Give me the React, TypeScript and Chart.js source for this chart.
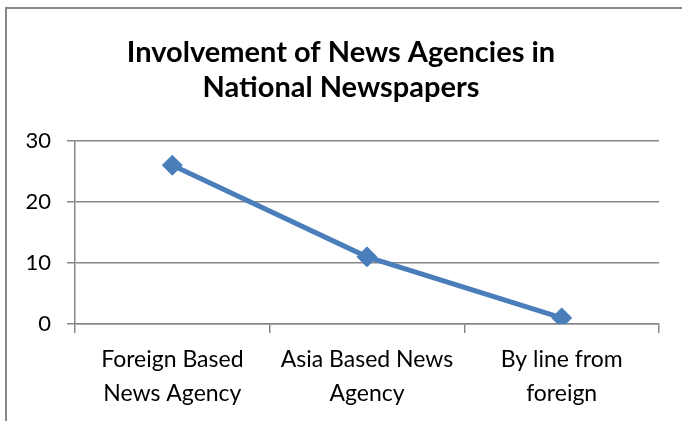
import React, { useEffect, useRef } from "react";
import { Chart, registerables } from "chart.js";

Chart.register(...registerables);

const titleLines = ["Involvement of News Agencies in", "National Newspapers"];
const categories: string[][] = [
  ["Foreign Based", "News Agency"],
  ["Asia Based News", "Agency"],
  ["By line from", "foreign"],
];
const seriesValues = [26, 11, 1];
const yTicks = [0, 10, 20, 30];

const FONT = "Lato, 'Open Sans', sans-serif";

export default function App() {
  const ref = useRef<HTMLCanvasElement | null>(null);
  useEffect(() => {
    if (!ref.current) return;
    const chart = new Chart(ref.current, {
      type: "line",
      data: {
        labels: categories,
        datasets: [
          {
            data: seriesValues,
            borderColor: "#4a7ebb",
            backgroundColor: "#4a7ebb",
            borderWidth: 5,
            pointStyle: "rectRot",
            pointRadius: 10,
            pointHoverRadius: 10,
            pointBorderWidth: 1,
            tension: 0,
          },
        ],
      },
      options: {
        animation: false,
        responsive: false,
        layout: { padding: { left: 0, right: 0, top: 0, bottom: 0 } },
        plugins: {
          legend: { display: false },
          tooltip: { enabled: false },
          title: {
            display: true,
            text: titleLines,
            color: "#000",
            font: { family: FONT, size: 29, weight: "bold", lineHeight: 1.22 },
            padding: { top: 35, bottom: 35 },
          },
        },
        scales: {
          x: {
            type: "category",
            offset: true,
            grid: {
              offset: true,
              drawOnChartArea: false,
              drawTicks: true,
              tickLength: 9,
              color: "#878787",
              lineWidth: 1.5,
            },
            border: { display: true, color: "#878787", width: 1.5 },
            ticks: {
              color: "#000",
              font: { family: FONT, size: 23, lineHeight: 1.48 },
              padding: 10,
              maxRotation: 0,
              autoSkip: false,
            },
            afterFit: (scale: any) => {
              scale.height = 97;
            },
          },
          y: {
            min: 0,
            max: 30,
            afterBuildTicks: (scale: any) => {
              scale.ticks = yTicks.map((v) => ({ value: v }));
            },
            grid: {
              color: "#878787",
              lineWidth: 1.5,
              tickLength: 8,
            },
            border: { display: true, color: "#878787", width: 1.5 },
            ticks: {
              color: "#000",
              font: { family: FONT, size: 22 },
              padding: 16,
            },
            afterFit: (scale: any) => {
              scale.width = 75;
            },
          },
          yRightSpace: {
            type: "linear",
            position: "right",
            display: true,
            min: 0,
            max: 30,
            grid: { display: false, drawTicks: false },
            border: { display: false },
            ticks: { display: false },
            afterFit: (scale: any) => {
              scale.width = 23;
            },
          },
        },
      },
    });
    return () => chart.destroy();
  }, []);

  return (
    <div
      style={{
        position: "fixed",
        left: 0,
        top: 0,
        width: 682,
        height: 421,
        background: "#fff",
        overflow: "hidden",
      }}
    >
      <div
        style={{
          position: "absolute",
          left: 5,
          top: 7,
          width: 2,
          height: 414,
          background: "#878787",
        }}
      />
      <div
        style={{
          position: "absolute",
          left: 5,
          top: 7,
          width: 677,
          height: 2,
          background: "#878787",
        }}
      />
      <canvas
        ref={ref}
        width={682}
        height={421}
        style={{ position: "absolute", left: 0, top: 0 }}
      />
    </div>
  );
}
